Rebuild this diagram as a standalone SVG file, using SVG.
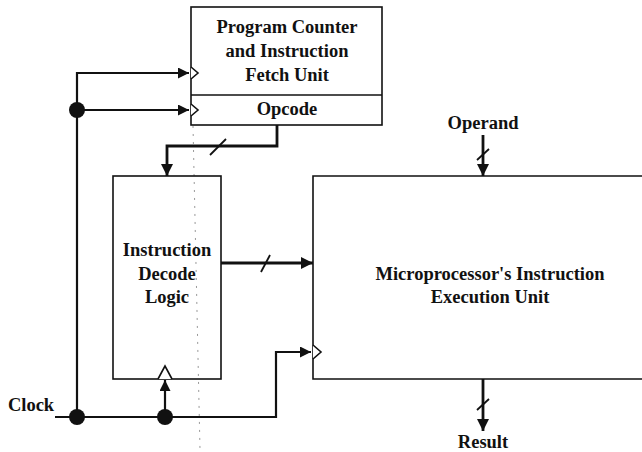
<svg xmlns="http://www.w3.org/2000/svg" width="642" height="452" viewBox="0 0 642 452">
  <style>
    .box { fill: none; stroke: #111; stroke-width: 1.6; }
    .wire { fill: none; stroke: #111; stroke-width: 2.2; }
    .bus { fill: none; stroke: #111; stroke-width: 2.8; }
    .slash { stroke: #111; stroke-width: 1.8; }
    .clk { fill: #fff; stroke: #111; stroke-width: 1.6; }
    .dot { fill: #111; }
    .lbl { font-family: "Liberation Serif", "Times New Roman", serif; font-weight: bold; font-size: 18.5px; fill: #111; text-anchor: middle; }
    .fold { stroke: #999; stroke-width: 1; stroke-dasharray: 2 6; fill: none; }
  </style>
  <defs>
    <marker id="arrow" viewBox="0 0 11 11" refX="11" refY="5.5" markerWidth="11" markerHeight="11" markerUnits="userSpaceOnUse" orient="auto">
      <path d="M0,0 L11,5.5 L0,11 Z" fill="#111"/>
    </marker>
    <marker id="arrowBig" viewBox="0 0 12 12" refX="12" refY="6" markerWidth="12" markerHeight="12" markerUnits="userSpaceOnUse" orient="auto">
      <path d="M0,0 L12,6 L0,12 Z" fill="#111"/>
    </marker>
  </defs>

  <rect width="642" height="452" fill="#fff"/>

  <!-- faint vertical fold line -->
  <path class="fold" d="M193,126 L200,450"/>

  <g id="fetch-unit">
    <rect class="box" x="191" y="7" width="191" height="118"/>
    <line class="box" x1="191" y1="95" x2="382" y2="95"/>
    <text class="lbl" x="287" y="33">Program Counter</text>
    <text class="lbl" x="287" y="57">and Instruction</text>
    <text class="lbl" x="287" y="81">Fetch Unit</text>
    <text class="lbl" x="287" y="115">Opcode</text>
    <path class="clk" d="M191,67 L198,73 L191,79"/>
    <path class="clk" d="M191,104 L198,110 L191,116"/>
  </g>

  <g id="decode-logic">
    <rect class="box" x="113" y="176" width="108" height="203"/>
    <text class="lbl" x="167" y="256">Instruction</text>
    <text class="lbl" x="167" y="280">Decode</text>
    <text class="lbl" x="167" y="303">Logic</text>
    <path class="clk" d="M158,379 L165,366 L172,379"/>
  </g>

  <g id="execution-unit">
    <path class="box" d="M642,176 L313,176 L313,379 L642,379"/>
    <text class="lbl" x="490" y="280">Microprocessor's Instruction</text>
    <text class="lbl" x="490" y="303">Execution Unit</text>
    <path class="clk" d="M313,345 L321,352 L313,359"/>
  </g>

  <g id="clock-label">
    <text class="lbl" x="31" y="411">Clock</text>
  </g>

  <g id="operand-label">
    <text class="lbl" x="483" y="129">Operand</text>
  </g>

  <g id="result-label">
    <text class="lbl" x="483" y="448">Result</text>
  </g>

  <g id="connectors">
    <!-- clock distribution -->
    <path class="wire" d="M55,417 L276,417 L276,352 L311,352" marker-end="url(#arrow)"/>
    <path class="wire" d="M77,417 L77,73 L189,73" marker-end="url(#arrow)"/>
    <path class="wire" d="M77,110 L189,110" marker-end="url(#arrow)"/>
    <path class="wire" d="M165,417 L165,380" marker-end="url(#arrow)"/>
    <circle class="dot" cx="77" cy="110" r="8"/>
    <circle class="dot" cx="77" cy="417" r="8"/>
    <circle class="dot" cx="165" cy="417" r="8"/>

    <!-- opcode bus -->
    <path class="bus" d="M277,125 L277,146 L167,146 L167,176" marker-end="url(#arrowBig)"/>
    <line class="slash" x1="210" y1="155" x2="226" y2="139"/>

    <!-- control bus to execution unit -->
    <path class="bus" d="M221,263 L313,263" marker-end="url(#arrowBig)"/>
    <line class="slash" x1="261" y1="272" x2="270" y2="255"/>

    <!-- operand input -->
    <path class="bus" d="M483,135 L483,176" marker-end="url(#arrowBig)"/>
    <line class="slash" x1="477" y1="160" x2="489" y2="149"/>

    <!-- result output -->
    <path class="bus" d="M483,379 L483,431" marker-end="url(#arrowBig)"/>
    <line class="slash" x1="477" y1="410" x2="489" y2="399"/>
  </g>
</svg>
